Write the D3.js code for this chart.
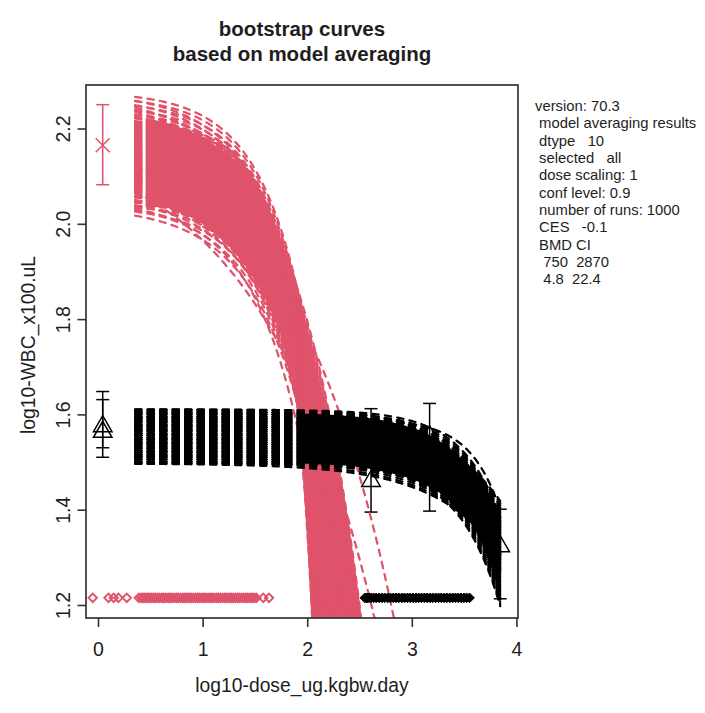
<!DOCTYPE html>
<html><head><meta charset="utf-8">
<script src="https://cdn.jsdelivr.net/npm/d3@7/dist/d3.min.js"></script>
<style>
html,body{margin:0;padding:0;background:#fff;}
svg text{font-family:"Liberation Sans",Arial,sans-serif;fill:#1e1e1e;}
</style></head><body>
<svg id="chart" width="705" height="713"></svg>
<script>
// ---------------- data ----------------
const titleLines = ["bootstrap curves", "based on model averaging"];
const xLabel = "log10-dose_ug.kgbw.day";
const yLabel = "log10-WBC_x100.uL";
const xTicks = [0, 1, 2, 3, 4];
const yTicks = [1.2, 1.4, 1.6, 1.8, 2.0, 2.2];
const infoLines = ["version: 70.3", " model averaging results", " dtype   10", " selected   all",
  " dose scaling: 1", " conf level: 0.9", " number of runs: 1000", " CES   -0.1", " BMD CI",
  "  750  2870", "  4.8  22.4"];

// observed means with CI (red subgroup: cross, black subgroup: triangles)
const redObsX = [0.045];
const redObsMean = [2.165];
const redObsLo = [2.082];
const redObsHi = [2.25];
const blackObsX = [0.045, 0.045, 2.61, 3.17, 3.845];
const blackObsMean = [1.575, 1.563, 1.46, 1.554, 1.323];
const blackObsLo = [1.51, 1.53, 1.395, 1.397, 1.213];
const blackObsHi = [1.648, 1.631, 1.612, 1.623, 1.401];

// bootstrap curves: y = start - drop * 10^(shape * (x - pivot))
const curveFrom = 0.355;
const redPivot = 1.9, redDrop = 0.41, redTo = 3.0;
const redStart = [2.278, 2.269, 2.259, 2.249, 2.241, 2.234, 2.227, 2.221, 2.214, 2.208, 2.201, 2.195,
  2.188, 2.182, 2.176, 2.169, 2.163, 2.156, 2.15, 2.143, 2.137, 2.13, 2.124, 2.117, 2.111, 2.104,
  2.098, 2.091, 2.085, 2.079, 2.07, 2.059, 2.048, 2.037];
const redShape = [0.7, 0.85, 1.0, 1.3, 1.7, 2.2];
const redShapeMinStart = [2.09, 2.0, 2.0, 2.0, 2.0, 2.0];
const redShapeMaxStart = [2.3, 2.3, 2.3, 2.22, 2.16, 2.13];
const redOutStart = [2.2, 2.2, 2.05];
const redOutDrop = [0.39, 0.527, 0.47];
const redOutShape = [0.453, 0.39, 0.9];

const blackPivot = 3.5, blackTo = 3.85;
const blackStart = [1.61, 1.605, 1.601, 1.596, 1.592, 1.587, 1.583, 1.578, 1.574, 1.569, 1.565, 1.56,
  1.556, 1.551, 1.547, 1.542, 1.538, 1.533, 1.529, 1.524, 1.52, 1.515, 1.511, 1.506, 1.501, 1.497];
const blackDrop = [0.09, 0.105, 0.125, 0.11];
const blackShape = [1.15, 1.0, 1.1, 0.7];
const blackOutStart = [1.59];
const blackOutDrop = [0.058];
const blackOutShape = [1.5];

// bootstrap BMD points plotted along the bottom
const bmdLevel = 1.215;
const redBmd = [-0.05, 0.10, 0.15, 0.195, 0.275, 0.39, 0.415,
  0.432, 0.447, 0.468, 0.486, 0.507, 0.529, 0.548, 0.566, 0.588, 0.61, 0.627, 0.649, 0.671, 0.688,
  0.709, 0.731, 0.75, 0.768, 0.79, 0.812, 0.829, 0.851, 0.872, 0.89, 0.911, 0.932, 0.951, 0.97,
  0.991, 1.013, 1.03, 1.052, 1.073, 1.091, 1.112, 1.133, 1.152, 1.171, 1.192, 1.214, 1.231, 1.253,
  1.274, 1.292, 1.313, 1.334, 1.353, 1.372, 1.393, 1.415, 1.432, 1.454, 1.475, 1.493, 1.514, 1.58, 1.635];
const blackBmd = [2.55, 2.565, 2.575, 2.59, 2.61, 2.635, 2.66, 2.688, 2.714, 2.741, 2.77, 2.795, 2.823,
  2.85, 2.876, 2.904, 2.93, 2.958, 2.985, 3.012, 3.04, 3.066, 3.093, 3.121, 3.147, 3.175, 3.2, 3.228,
  3.256, 3.282, 3.31, 3.336, 3.363, 3.39, 3.417, 3.444, 3.471, 3.498, 3.524, 3.552];

// ---------------- drawing ----------------
const RED = "#DF536B", BLACK = "#000";
const svg = d3.select("#chart");
const box = {l: 86, r: 518, t: 85, b: 618};
const x = d3.scaleLinear().domain([-0.1147, 4.015]).range([box.l, box.r]);
const y = d3.scaleLinear().domain([1.1727, 2.2913]).range([box.b, box.t]);

svg.append("defs").append("clipPath").attr("id", "plotclip")
  .append("rect").attr("x", box.l).attr("y", box.t).attr("width", box.r - box.l).attr("height", box.b - box.t);
const plot = svg.append("g").attr("clip-path", "url(#plotclip)");

// observations
function errBars(g, xs, lo, hi, col) {
  xs.forEach((xv, i) => {
    const cx = x(xv);
    g.append("line").attr("x1", cx).attr("x2", cx).attr("y1", y(lo[i])).attr("y2", y(hi[i]))
      .attr("stroke", col).attr("stroke-width", 1.5);
    [lo[i], hi[i]].forEach(v => g.append("line").attr("x1", cx - 6.5).attr("x2", cx + 6.5)
      .attr("y1", y(v)).attr("y2", y(v)).attr("stroke", col).attr("stroke-width", 1.5));
  });
}
errBars(plot, redObsX, redObsLo, redObsHi, RED);
errBars(plot, blackObsX, blackObsLo, blackObsHi, BLACK);
redObsX.forEach((xv, i) => {
  const cx = x(xv), cy = y(redObsMean[i]), s = 7;
  plot.append("path").attr("d", `M${cx - s},${cy - s}L${cx + s},${cy + s}M${cx - s},${cy + s}L${cx + s},${cy - s}`)
    .attr("stroke", RED).attr("stroke-width", 1.5).attr("fill", "none");
});
blackObsX.forEach((xv, i) => {
  const cx = x(xv), cy = y(blackObsMean[i]), R = 6.86;
  plot.append("path").attr("d", `M${cx},${cy - 1.555 * R}L${cx + 1.347 * R},${cy + 0.778 * R}L${cx - 1.347 * R},${cy + 0.778 * R}Z`)
    .attr("stroke", BLACK).attr("stroke-width", 1.5).attr("fill", "none");
});

// curves
const line = d3.line().x(p => x(p[0])).y(p => y(p[1]));
function curvePts(a, m, d, pivot, from, to) {
  const pts = [];
  for (let xv = from; xv <= to + 1e-9; xv += 0.01) {
    const yv = a - m * Math.pow(10, d * (xv - pivot));
    pts.push([xv, yv]);
    if (yv < 0.9) break;
  }
  return pts;
}
function dashed(g, c, col, to) {
  g.append("path").attr("d", line(curvePts(c.a, c.m, c.d, c.p, curveFrom, to)))
    .attr("fill", "none").attr("stroke", col).attr("stroke-width", 2.25)
    .attr("stroke-dasharray", "6.25 6.25").attr("stroke-linecap", "round");
}
function drawFamily(g, curves, col, fillFrom, to, qlo, qhi) {
  const xs = d3.range(fillFrom, to + 1e-9, 0.005);
  const band = xs.map(xv => {
    const vals = curves.map(c => c.a - c.m * Math.pow(10, c.d * (xv - c.p))).sort(d3.ascending);
    return [xv, d3.quantile(vals, qlo), d3.quantile(vals, qhi)];
  });
  g.append("path").attr("d", d3.area().x(p => x(p[0])).y0(p => y(Math.max(p[1], 0.9))).y1(p => y(Math.max(p[2], 0.9)))(band))
    .attr("fill", col).attr("stroke", "none");
  curves.forEach(c => dashed(g, c, col, to));
}
const redCurves = [];
redStart.forEach(a => redShape.forEach((d, j) => {
  if (a >= redShapeMinStart[j] && a <= redShapeMaxStart[j]) redCurves.push({a, m: redDrop, d, p: redPivot});
}));
const redOut = redOutStart.map((a, i) => ({a, m: redOutDrop[i], d: redOutShape[i], p: redPivot}));
const blackCurves = [];
blackStart.forEach(a => blackDrop.forEach((m, j) => blackCurves.push({a, m, d: blackShape[j], p: blackPivot})));
const blackOut = blackOutStart.map((a, i) => ({a, m: blackOutDrop[i], d: blackOutShape[i], p: blackPivot}));

const gRed = plot.append("g");
drawFamily(gRed, redCurves, RED, 0.455, redTo, 0.04, 0.93);
redOut.forEach(c => dashed(gRed, c, RED, redTo));
const gBlack = plot.append("g");
drawFamily(gBlack, blackCurves, BLACK, 1.97, blackTo, 0.05, 0.95);
blackOut.forEach(c => dashed(gBlack, c, BLACK, blackTo));

// BMD points
const diamond = (cx, cy, s) => `M${cx},${cy - s}L${cx + s},${cy}L${cx},${cy + s}L${cx - s},${cy}Z`;
redBmd.forEach(v => plot.append("path").attr("d", diamond(x(v), y(bmdLevel), 4.2))
  .attr("fill", "none").attr("stroke", RED).attr("stroke-width", 1.9));
blackBmd.forEach(v => plot.append("path").attr("d", diamond(x(v), y(bmdLevel), 4.8))
  .attr("fill", BLACK).attr("stroke", BLACK).attr("stroke-width", 1));

// box and axes
svg.append("rect").attr("x", box.l).attr("y", box.t).attr("width", box.r - box.l).attr("height", box.b - box.t)
  .attr("fill", "none").attr("stroke", "#333").attr("stroke-width", 1.7);
const gx = svg.append("g").attr("transform", `translate(0,${box.b})`)
  .call(d3.axisBottom(x).tickValues(xTicks).tickSize(9).tickFormat(d3.format("d")));
gx.select(".domain").remove();
gx.selectAll("line").attr("stroke", "#333").attr("stroke-width", 1.6);
gx.selectAll("text").attr("y", 38).attr("dy", 0).style("font-size", "19.5px").attr("fill", "#1e1e1e");
const gy = svg.append("g").attr("transform", `translate(${box.l},0)`)
  .call(d3.axisLeft(y).tickValues(yTicks).tickSize(8.5).tickFormat(d3.format(".1f")));
gy.select(".domain").remove();
gy.selectAll("line").attr("stroke", "#333").attr("stroke-width", 1.6);
gy.selectAll("text").attr("x", 0).attr("y", -16).attr("dy", 0).attr("transform", "rotate(-90)")
  .attr("text-anchor", "middle").style("font-size", "19.5px").attr("fill", "#1e1e1e");

// titles
const cxTitle = (box.l + box.r) / 2;
titleLines.forEach((t, i) => svg.append("text").attr("x", cxTitle).attr("y", 36 + i * 25)
  .attr("text-anchor", "middle").style("font-size", "20.5px").style("font-weight", "bold").text(t));
svg.append("text").attr("x", cxTitle).attr("y", 692).attr("text-anchor", "middle")
  .style("font-size", "19.3px").text(xLabel);
svg.append("text").attr("transform", "translate(35,345) rotate(-90)").attr("text-anchor", "middle")
  .style("font-size", "19.3px").text(yLabel);

// info text
infoLines.forEach((t, i) => svg.append("text").attr("x", 535).attr("y", 111 + i * 17.33)
  .style("font-size", "14.8px").style("white-space", "pre").text(t));
</script>
</body></html>
